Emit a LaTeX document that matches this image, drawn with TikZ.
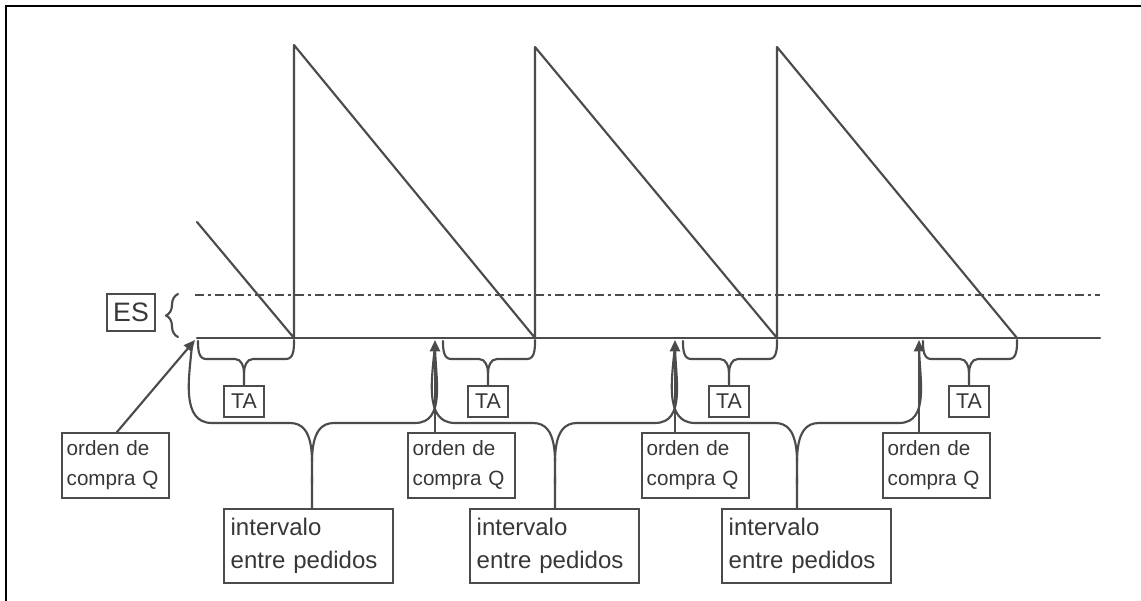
\documentclass[tikz,border=0pt]{standalone}
\usepackage{fontspec}
\setmainfont{Liberation Sans}
\usetikzlibrary{arrows.meta,decorations.pathreplacing}
\definecolor{inkgray}{RGB}{75,75,75}
\definecolor{txtgray}{RGB}{55,55,55}
\begin{document}
\begin{tikzpicture}[x=0.75pt,y=-0.75pt,
  ln/.style={draw=inkgray,line width=1.6pt,line cap=round,line join=round},
  boxbase/.style={draw=inkgray,line width=1.5pt,text=txtgray,anchor=north west},
  ordbox/.style={boxbase,minimum width=80.25pt,minimum height=48.75pt,
    text width=73.25pt,inner xsep=3.5pt,inner ysep=0pt,align=left,
    font=\fontsize{15.5}{22.5}\selectfont},
  intbox/.style={boxbase,minimum width=127pt,minimum height=55.5pt,
    text width=117pt,inner xsep=5pt,inner ysep=0pt,align=left,
    font=\fontsize{18}{24.75}\selectfont},
  tabox/.style={draw=inkgray,line width=1.5pt,text=txtgray,minimum width=30pt,
    minimum height=23.25pt,inner sep=0pt,font=\fontsize{16}{16}\selectfont},
  esbox/.style={draw=inkgray,line width=1.5pt,text=txtgray,minimum width=36pt,
    minimum height=27.75pt,inner sep=0pt,font=\fontsize{20}{20}\selectfont},
  ordarrow/.style={ln,-{Triangle[length=8.5pt,width=7.5pt]}}
]
\useasboundingbox (0,0) rectangle (1141,600);

% outer frame (left and top edges)
\draw[line width=1.8pt,line cap=rect] (6,600) -- (6,6) -- (1141,6);

% feet of the stock curve on the zero level
\coordinate (f1) at (294,338);
\coordinate (f2) at (535,338);
\coordinate (f3) at (777,338);
\coordinate (f4) at (1017,338);

% safety stock level and zero level
\draw[ln,line cap=butt,dash pattern=on 7pt off 3pt on 2pt off 3pt] (195,295) -- (1100,295);
\draw[ln] (197,338) -- (1100,338);

% saw-tooth stock curve
\draw[ln] (197,222) -- (f1) -- (294,45) -- (f2) -- (535,47) -- (f3) -- (777,47) -- (f4);

% safety stock label
\node[esbox] (es) at (131,312.5) {ES};
\draw[ln,decorate,decoration={brace,amplitude=9pt}] (178,337) -- (178,294);

% order boxes
\node[ordbox] (o1) at (61,432)  {orden de\\compra Q};
\node[ordbox] (o2) at (407,432) {orden de\\compra Q};
\node[ordbox] (o3) at (641,432) {orden de\\compra Q};
\node[ordbox] (o4) at (882,432) {orden de\\compra Q};

% order arrow tips on the zero level
\coordinate (a1) at (195,340);
\coordinate (a2) at (435,340);
\coordinate (a3) at (675,340);
\coordinate (a4) at (919,340);

\draw[ordarrow] (117,432) -- (a1);
\draw[ordarrow] (a2 |- o2.north) -- (a2);
\draw[ordarrow] (a3 |- o3.north) -- (a3);
\draw[ordarrow] (a4 |- o4.north) -- (a4);

% lead time labels
\node[tabox] (ta1) at (244,401) {TA};
\node[tabox] (ta2) at (488,401) {TA};
\node[tabox] (ta3) at (729,401) {TA};
\node[tabox] (ta4) at (969,401) {TA};

% lead time braces: from order point to arrival
\foreach \s/\e/\m/\t in {198/294/244/ta1, 443/535/488/ta2, 683/777/729/ta3, 923/1017/969/ta4}{
  \draw[ln] (\s,341) to[out=-90,in=180] (\s+8,359) -- (\m-9,359)
            to[out=0,in=90] (\m,373) -- (\t.north);
  \draw[ln] (\e,340) to[out=-90,in=0] (\e-8,359) -- (\m+9,359)
            to[out=180,in=90] (\m,373);
}

% interval boxes
\node[intbox] (i1) at (223,508) {intervalo\\entre pedidos};
\node[intbox] (i2) at (469,508) {intervalo\\entre pedidos};
\node[intbox] (i3) at (721,508) {intervalo\\entre pedidos};

% interval braces between consecutive orders
\foreach \l/\r/\m/\b in {192/435/312/i1, 435/675/555/i2, 675/919/797/i3}{
  \draw[ln] (\l,345) to[out=-95,in=180] (\l+20,423) -- (\m-22,423)
            to[out=0,in=90] (\m,484) -- (\m,0 |- \b.north);
  \draw[ln] (\r,345) to[out=-90,in=0] (\r-20,423) -- (\m+22,423)
            to[out=180,in=90] (\m,484);
}
\end{tikzpicture}
\end{document}
